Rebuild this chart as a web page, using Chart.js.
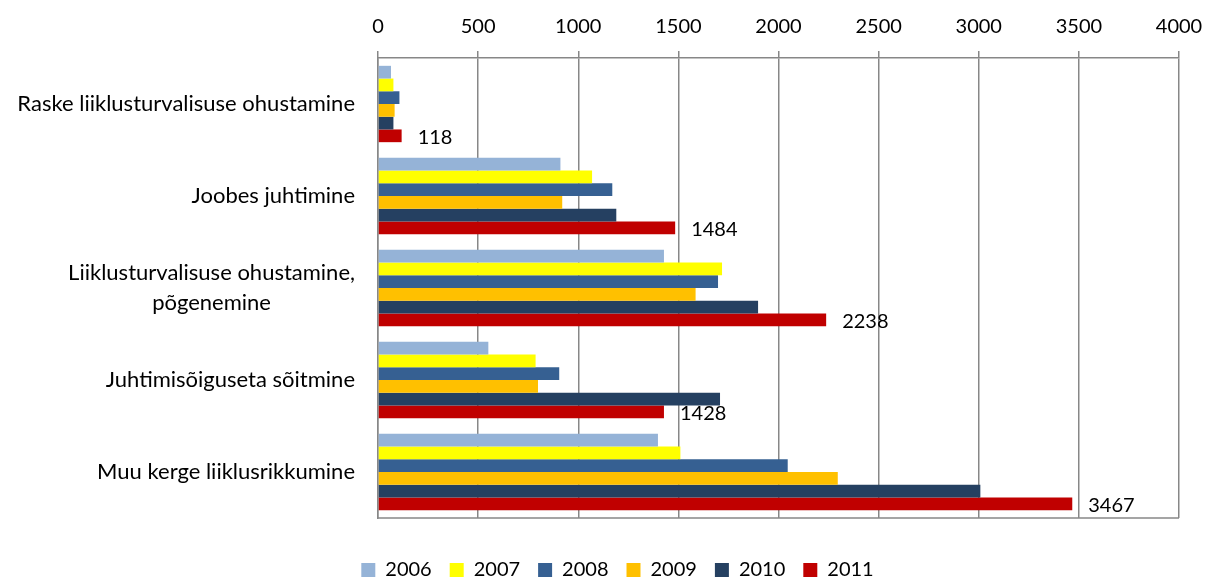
<!DOCTYPE html>
<html><head><meta charset="utf-8">
<script src="https://cdn.jsdelivr.net/npm/chart.js@4.4.1/dist/chart.umd.min.js"></script>
<style>html,body{margin:0;padding:0;background:#fff;}#wrap{width:1208px;height:579px;}</style>
</head><body><div id="wrap"><canvas id="c" width="1208" height="579"></canvas></div>
<script>
const categories = [
  ["Raske liiklusturvalisuse ohustamine"],
  ["Joobes juhtimine"],
  ["Liiklusturvalisuse ohustamine,", "põgenemine"],
  ["Juhtimisõiguseta sõitmine"],
  ["Muu kerge liiklusrikkumine"]
];
const years = ["2006", "2007", "2008", "2009", "2010", "2011"];
const v2006 = [65, 911, 1428, 551, 1398];
const v2007 = [77, 1069, 1718, 787, 1510];
const v2008 = [107, 1170, 1698, 905, 2046];
const v2009 = [83, 920, 1586, 799, 2296];
const v2010 = [77, 1190, 1898, 1708, 3008];
const v2011 = [118, 1484, 2238, 1428, 3467];
const xMin = 0, xMax = 4000, xStep = 500;
const colors = ["#95B3D7", "#FFFF00", "#366092", "#FFC000", "#254061", "#C00000"];
const seriesValues = [v2006, v2007, v2008, v2009, v2010, v2011];
const labeledSeries = 5;

const GRID = "#878787";
const FONT = "Lato, 'Open Sans', sans-serif";

const catLabelPlugin = {
  id: "catLabels",
  afterDraw(chart) {
    const ctx = chart.ctx, ys = chart.scales.y;
    ctx.save();
    ctx.font = "22px " + FONT;
    ctx.fillStyle = "#000";
    ctx.textBaseline = "middle";
    ctx.textAlign = "center";
    const rightX = chart.chartArea.left - 23;
    const lh = 30;
    categories.forEach((lines, i) => {
      const cy = ys.getPixelForValue(i);
      const maxW = Math.max(...lines.map(l => ctx.measureText(l).width));
      const cx = rightX - maxW / 2;
      const y0 = cy - (lines.length - 1) * lh / 2;
      lines.forEach((l, j) => ctx.fillText(l, cx, y0 + j * lh));
    });
    ctx.restore();
  }
};

const valueLabelPlugin = {
  id: "valueLabels",
  afterDatasetsDraw(chart) {
    const ctx = chart.ctx;
    const meta = chart.getDatasetMeta(labeledSeries);
    ctx.save();
    ctx.font = "20px " + FONT;
    ctx.fillStyle = "#000";
    ctx.textBaseline = "middle";
    ctx.textAlign = "left";
    meta.data.forEach((el, i) => {
      ctx.fillText(String(seriesValues[labeledSeries][i]), el.x + 16, el.y + 2);
    });
    ctx.restore();
  }
};

const frameBottomPlugin = {
  id: "frameBottom",
  afterDatasetsDraw(chart) {
    const {ctx, chartArea: a} = chart;
    ctx.save();
    ctx.strokeStyle = GRID;
    ctx.lineWidth = 1.5;
    ctx.beginPath();
    ctx.moveTo(a.left, a.bottom);
    ctx.lineTo(a.right, a.bottom);
    ctx.stroke();
    ctx.restore();
  }
};

function draw() {
  Chart.defaults.font.family = FONT;
  Chart.defaults.color = "#000";
  new Chart(document.getElementById("c"), {
    type: "bar",
    data: {
      labels: categories.map(c => c.join(" ")),
      datasets: years.map((y, i) => ({
        label: y,
        data: seriesValues[i],
        backgroundColor: colors[i],
        borderWidth: 0,
        categoryPercentage: 0.83,
        barPercentage: 1.0
      }))
    },
    options: {
      indexAxis: "y",
      responsive: false,
      animation: false,
      layout: { padding: { left: 56, right: 29, top: 0, bottom: -11 } },
      plugins: {
        legend: {
          position: "bottom",
          labels: { boxWidth: 14, boxHeight: 14, padding: 18, font: { size: 20 }, color: "#000" }
        },
        tooltip: { enabled: false }
      },
      scales: {
        x: {
          type: "linear",
          position: "top",
          min: xMin, max: xMax,
          ticks: { stepSize: xStep, font: { size: 20 }, color: "#000", padding: 12,
                   callback: v => String(v) },
          grid: { color: GRID, lineWidth: 1.5, tickLength: 7, tickColor: GRID },
          border: { display: true, color: GRID, width: 1.5 },
          afterFit(s) { s.height = 58; s.paddingLeft = 0; s.paddingRight = 0; }
        },
        x2: {
          type: "linear",
          position: "bottom",
          min: xMin, max: xMax,
          ticks: { display: false },
          grid: { display: false, drawTicks: false },
          border: { display: false },
          afterFit(s) { s.height = 24; s.paddingLeft = 0; s.paddingRight = 0; }
        },
        y: {
          type: "category",
          ticks: { display: false },
          grid: { display: false, drawTicks: false },
          border: { display: true, color: GRID, width: 1.5 },
          afterFit(s) { s.width = 322; }
        }
      }
    },
    plugins: [catLabelPlugin, valueLabelPlugin, frameBottomPlugin]
  });
}
if (document.fonts && document.fonts.load) {
  document.fonts.load("20px Lato").then(draw, draw);
} else { draw(); }
</script>
</body></html>
